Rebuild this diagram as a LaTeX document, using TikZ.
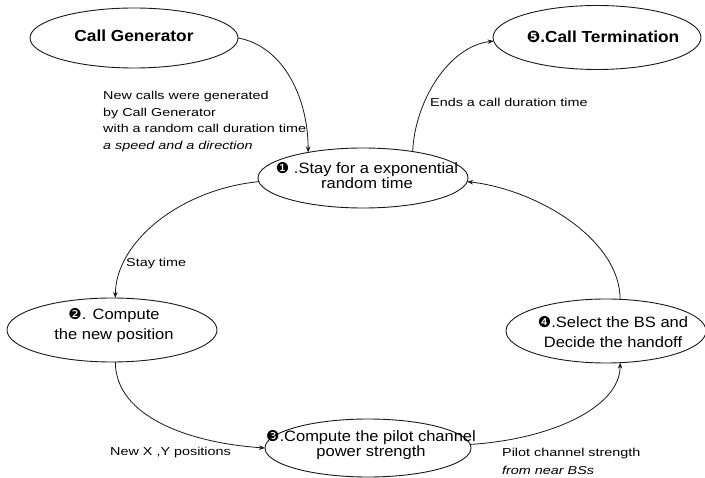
\documentclass[tikz,border=0pt]{standalone}
\usepackage{fontspec}
\setmainfont[FakeStretch=1.1]{Liberation Sans}
\newfontfamily\lblfont[FakeStretch=1.25]{Liberation Sans}
\newfontfamily\ttlfont[FakeStretch=1.08]{Liberation Sans}
\newfontfamily\dingfont{DejaVu Sans}
\newcommand\bul[1]{{\dingfont #1}}
\usetikzlibrary{shapes.geometric,arrows.meta}
\begin{document}
\begin{tikzpicture}[x=1pt,y=-1pt,
  ell/.style={draw=black!90, line width=0.9pt, ellipse, inner sep=0pt, outer sep=0pt},
  txt/.style={align=center, font=\fontsize{15}{13.5}\selectfont, inner sep=0pt},
  txtw/.style={align=center, font=\fontsize{15}{20}\selectfont, inner sep=0pt},
  ttl/.style={font=\ttlfont\bfseries\fontsize{16}{18}\selectfont, inner sep=0pt},
  lbl/.style={font=\lblfont\fontsize{11.5}{16.7}\selectfont, inner sep=0pt, align=left},
  conn/.style={draw=black!90, line width=0.8pt, -{Stealth[length=6pt,width=4.5pt]}}
]
\useasboundingbox (0,0) rectangle (705,478);
\fill[white] (0,0) rectangle (705,478);

% ellipses
\node[ell, minimum width=208pt, minimum height=60pt] (gen) at (134,38) {};
\node[ell, minimum width=208pt, minimum height=64pt] (term) at (597,37.5) {};
\node[ell, minimum width=210pt, minimum height=60pt] (stay) at (363,178) {};
\node[ell, minimum width=210pt, minimum height=64pt] (pos) at (112,330) {};
\node[ell, minimum width=200pt, minimum height=64pt] (sel) at (606,331) {};
\node[ell, minimum width=206pt, minimum height=58pt] (pilot) at (368,448) {};

% texts in ellipses
\node[ttl] (genT) at (134,36) {Call Generator};
\node[ttl] (termT) at (603,37) {\bul{❺}.Call Termination};
\node[txt] (stayT) at (367,176) {\bul{❶} .Stay for a exponential\\random time};
\node[txtw] (posT) at (114,326) {\bul{❷}. Compute\\the new position};
\node[txtw] (selT) at (613,332) {\bul{❹}.Select the BS and\\Decide the handoff};
\node[txt] (pilotT) at (371,445) {\bul{❸}.Compute the pilot channel\\power strength};

% connectors
\draw[conn] (gen.east) .. controls +(45,8) and +(0,-55) .. (stay.155);
\draw[conn] (stay.28) .. controls +(2,-50) and +(-45,5) .. (term.182);
\draw[conn] (stay.182) .. controls +(-80,8) and +(0,-55) .. (pos.84);
\draw[conn] (pos.-84) .. controls +(0,55) and +(-75,-5) .. (pilot.180);
\draw[conn] (pilot.2) .. controls +(80,-5) and +(0,45) .. (sel.294);
\draw[conn] (sel.66) .. controls +(0,-60) and +(70,8) .. (stay.-2);

% labels
\node[lbl, anchor=north west] (newcalls) at (103,91) {New calls were generated\\by Call Generator\\with a random call duration time\\\textit{a speed and a direction}};
\node[lbl, anchor=base west] (ends) at (430,107) {Ends a call duration time};
\node[lbl, anchor=base west] (staytime) at (126,267) {Stay time};
\node[lbl, anchor=base west] (newxy) at (110,456) {New X ,Y positions};
\node[lbl, anchor=north west, font=\lblfont\fontsize{11.5}{18.3}\selectfont] (pilotlbl) at (502,448) {Pilot channel strength\\\textit{from near BSs}};
\end{tikzpicture}
\end{document}
